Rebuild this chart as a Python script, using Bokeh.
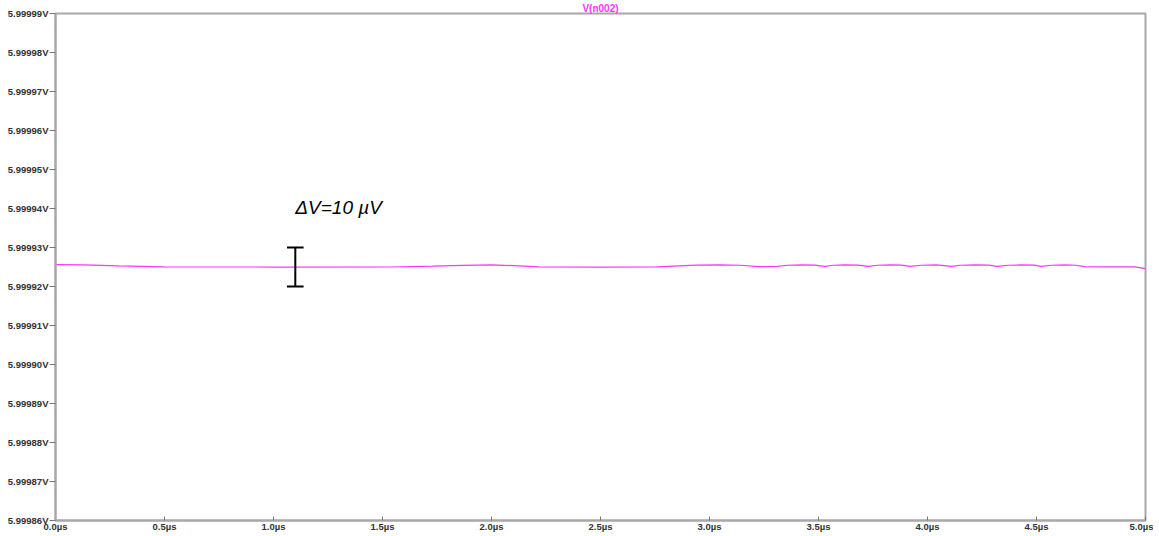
from bokeh.plotting import figure
from bokeh.models import FixedTicker, PrintfTickFormatter, Range1d
from bokeh.core.properties import value
from bokeh.embed import file_html
from bokeh.resources import INLINE

# Time in microseconds
t_us = [0.00, 0.13, 0.29, 0.50, 1.00, 1.54, 1.73, 1.87, 2.00, 2.13, 2.22, 2.50,
        2.76, 2.86, 2.94, 3.05, 3.14, 3.23, 3.31, 3.36, 3.42, 3.48, 3.53, 3.57,
        3.62, 3.68, 3.73, 3.77, 3.83, 3.88, 3.92, 3.97, 4.04, 4.11, 4.15, 4.22,
        4.28, 4.32, 4.37, 4.43, 4.49, 4.52, 4.57, 4.63, 4.68, 4.72, 4.80, 4.95, 5.00]
# V(n002) in volts
v_n002 = [5.99992561, 5.99992555, 5.99992530, 5.99992505, 5.99992499, 5.99992500,
          5.99992520, 5.99992540, 5.99992552, 5.99992530, 5.99992505, 5.99992499,
          5.99992505, 5.99992530, 5.99992548, 5.99992552, 5.99992545, 5.99992510,
          5.99992515, 5.99992545, 5.99992552, 5.99992548, 5.99992518, 5.99992545,
          5.99992552, 5.99992548, 5.99992518, 5.99992545, 5.99992552, 5.99992548,
          5.99992518, 5.99992545, 5.99992552, 5.99992518, 5.99992545, 5.99992552,
          5.99992548, 5.99992518, 5.99992545, 5.99992552, 5.99992548, 5.99992518,
          5.99992545, 5.99992552, 5.99992545, 5.99992510, 5.99992505, 5.99992505,
          5.99992458]

x_ticks = [0.0, 0.5, 1.0, 1.5, 2.0, 2.5, 3.0, 3.5, 4.0, 4.5, 5.0]
y_ticks = [5.99986, 5.99987, 5.99988, 5.99989, 5.99990, 5.99991, 5.99992,
           5.99993, 5.99994, 5.99995, 5.99996, 5.99997, 5.99998, 5.99999]

# annotation: delta-V marker
marker_t = 1.10
marker_lo = 5.99992
marker_hi = 5.99993
marker_label = "ΔV=10 µV"
label_t = 1.10
label_v = 5.9999403

p = figure(width=1153, height=534, output_backend="svg", toolbar_location=None,
           x_range=Range1d(0.0, 5.0), y_range=Range1d(5.99986, 5.99999),
           min_border_left=55, min_border_right=8, min_border_top=3,
           min_border_bottom=0, background_fill_color="white",
           border_fill_color="white")

p.title.text = "V(n002)"
p.title.align = "center"
p.title.text_color = "#ff33ff"
p.title.text_font = "Liberation Sans"
p.title.text_font_size = "10px"
p.title.text_font_style = "bold"
p.title.standoff = 0
p.title.offset = 0

p.outline_line_color = "#a8a8a8"
p.outline_line_width = 2
p.grid.visible = False

p.line(t_us, v_n002, line_color="#ff33ff", line_width=1.2)

p.segment(x0=[marker_t], y0=[marker_lo], x1=[marker_t], y1=[marker_hi],
          line_color="black", line_width=2)
p.segment(x0=[marker_t - 0.038, marker_t - 0.038], y0=[marker_lo, marker_hi],
          x1=[marker_t + 0.038, marker_t + 0.038], y1=[marker_lo, marker_hi],
          line_color="black", line_width=2)
p.text(x=[label_t], y=[label_v], text=[marker_label], text_font=value("Liberation Sans"),
       text_font_size="19px", text_font_style="italic", text_color="black",
       text_align="left", text_baseline="alphabetic")

p.xaxis.ticker = FixedTicker(ticks=x_ticks)
p.xaxis.formatter = PrintfTickFormatter(format="%.1fµs")
p.yaxis.ticker = FixedTicker(ticks=y_ticks)
p.yaxis.formatter = PrintfTickFormatter(format="%.5fV")

for ax in (p.xaxis, p.yaxis):
    ax.axis_line_color = "#a8a8a8"
    ax.axis_line_width = 2
    ax.major_tick_line_color = "#777777"
    ax.minor_tick_line_color = None
    ax.major_label_text_font = "Liberation Sans"
    ax.major_label_text_font_size = "9.5px"
    ax.major_label_text_font_style = "bold"
    ax.major_label_text_color = "#333333"

p.yaxis.major_tick_out = 6
p.yaxis.major_tick_in = 0
p.yaxis.major_label_standoff = 1
p.xaxis.major_tick_out = 0
p.xaxis.major_tick_in = 4
p.xaxis.major_label_standoff = 0

open("out.html", "w").write(file_html(p, INLINE))
